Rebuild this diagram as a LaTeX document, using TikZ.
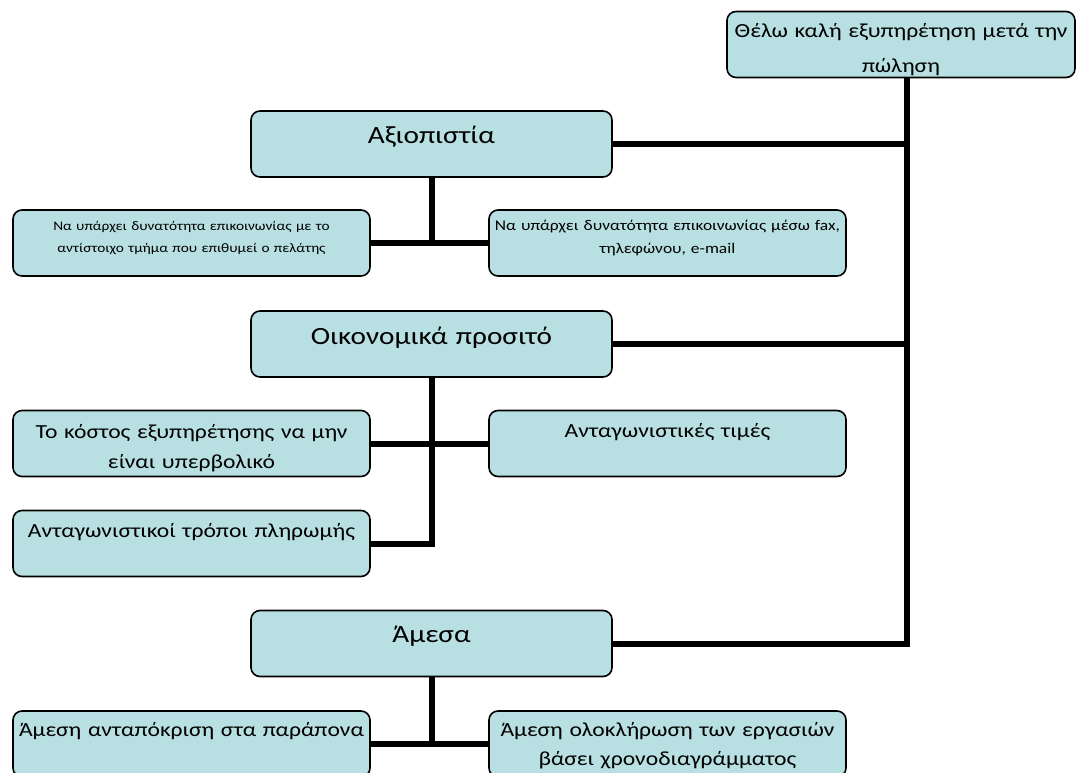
\documentclass[tikz,border=0pt]{standalone}
\usepackage{fontspec}
\setmainfont{Carlito}[FakeStretch=1.18]
\usetikzlibrary{backgrounds}
\definecolor{boxfill}{RGB}{184,223,226}
\begin{document}
\begin{tikzpicture}[x=1pt,y=-1pt,
  box/.style={draw=black, line width=1.6pt, rounded corners=9pt, fill=boxfill,
              minimum height=66pt, inner sep=0pt},
  wide/.style={box, minimum width=361pt},
  side/.style={box, minimum width=357pt},
  link/.style={line width=6pt, line join=miter, draw=black},
  txt/.style={anchor=base, align=center, text width=350pt, inner sep=0pt},
  head/.style={txt, font=\fontsize{24.8}{30}\selectfont},
  body/.style={txt, font=\fontsize{20}{30}\selectfont},
]
\useasboundingbox (0,0) rectangle (1078,773);

% boxes
\node[box, minimum width=348pt] (goal) at (901,44.5) {};
\node[wide] (axi) at (431.5,144) {};
\node[side] (n1) at (191.5,243) {};
\node[side] (n2) at (667.5,243) {};
\node[wide] (oik) at (431.5,344) {};
\node[side] (k1) at (191.5,443.5) {};
\node[side] (k2) at (667.5,443.5) {};
\node[side] (k3) at (191.5,543.5) {};
\node[wide] (am) at (431.5,643.5) {};
\node[side] (a1) at (191.5,744) {};
\node[side] (a2) at (667.5,744) {};

% texts
\node[txt, font=\fontsize{20}{35}\selectfont] (goalT) at ([yshift=-26.5pt]goal.north)
  {Θέλω καλή εξυπηρέτηση μετά την\\πώληση};
\node[head] (axiT) at ([yshift=-33.5pt]axi.north) {Αξιοπιστία};
\node[txt, font=\fontsize{13}{22}\selectfont] (n1T) at ([yshift=-21pt]n1.north)
  {Να υπάρχει δυνατότητα επικοινωνίας με το\\αντίστοιχο τμήμα που επιθυμεί ο πελάτης};
\node[txt, font=\fontsize{14.8}{23}\selectfont] (n2T) at ([yshift=-21pt]n2.north)
  {Να υπάρχει δυνατότητα επικοινωνίας μέσω fax,\\τηλεφώνου, e-mail};
\node[head] (oikT) at ([yshift=-34pt]oik.north) {Οικονομικά προσιτό};
\node[body] (k1T) at ([yshift=-29pt]k1.north) {Το κόστος εξυπηρέτησης να μην\\είναι υπερβολικό};
\node[body] (k2T) at ([yshift=-28pt]k2.north) {Ανταγωνιστικές τιμές};
\node[body] (k3T) at ([yshift=-27.5pt]k3.north) {Ανταγωνιστικοί τρόποι πληρωμής};
\node[head] (amT) at ([yshift=-33pt]am.north) {Άμεσα};
\node[body] (a1T) at ([yshift=-26pt]a1.north) {Άμεση ανταπόκριση στα παράπονα};
\node[body, font=\fontsize{20}{29}\selectfont] (a2T) at ([yshift=-26pt]a2.north)
  {Άμεση ολοκλήρωση των εργασιών\\βάσει χρονοδιαγράμματος};

% connectors
\coordinate (trunk) at (907,0);
\begin{scope}[on background layer]
  \draw[link] (goal.south -| trunk) -- (am.east -| trunk) -- (am.east);
  \draw[link] (axi.east) -- (axi.east -| trunk);
  \draw[link] (oik.east) -- (oik.east -| trunk);
  \draw[link] (axi.south) -- (axi.south |- n1.east);
  \draw[link] (n1.east) -- (n2.west);
  \draw[link] (oik.south) -- (oik.south |- k3.east) -- (k3.east);
  \draw[link] (k1.east) -- (k2.west);
  \draw[link] (am.south) -- (am.south |- a1.east);
  \draw[link] (a1.east) -- (a2.west);
\end{scope}
\end{tikzpicture}
\end{document}
